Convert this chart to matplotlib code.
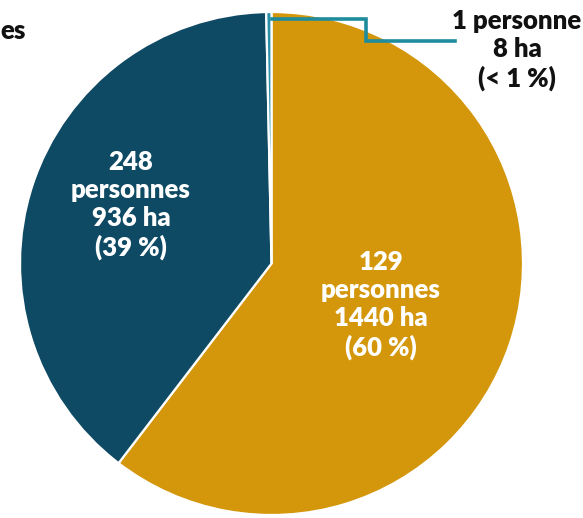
import matplotlib.pyplot as plt

# Surfaces par catégorie de propriétaires
personnes = [129, 248, 1]
surfaces_ha = [1440, 936, 8]
pourcentages = ["60 %", "39 %", "< 1 %"]
couleurs = ["#D4960A", "#0F4A64", "#2A90A8"]

W, H = 583, 518
fig = plt.figure(figsize=(W / 100, H / 100), dpi=100)
ax = fig.add_axes([0, 0, 1, 1])

cx, cy, r = 271.5, H - 263.5, 251.5
ax.pie(surfaces_ha, colors=couleurs, startangle=90, counterclock=False,
       center=(cx, cy), radius=r, frame=True,
       wedgeprops=dict(edgecolor="white", linewidth=1.6))

ax.set_xlim(0, W)
ax.set_ylim(0, H)
ax.set_aspect("equal")
ax.axis("off")

font = dict(family="Lato", fontweight="heavy", fontsize=18.5, ha="center", va="center",
            linespacing=1.2)

# étiquettes dans les secteurs
ax.text(381, H - 305, f"{personnes[0]}\npersonnes\n{surfaces_ha[0]} ha\n({pourcentages[0]})",
        color="white", **font)
ax.text(131, H - 205, f"{personnes[1]}\npersonnes\n{surfaces_ha[1]} ha\n({pourcentages[1]})",
        color="white", **font)

# petit secteur : étiquette extérieure avec trait de rappel
ax.plot([272, 366, 366, 455], [H - 19, H - 19, H - 41, H - 41],
        color="#1E8C9C", lw=2.6, solid_joinstyle="miter")
ax.text(517, H - 50, f"{personnes[2]} personne\n{surfaces_ha[2]} ha\n({pourcentages[2]})",
        color="#111111", **font)

# fin du libellé voisin, à gauche
ax.text(0, H - 31, "es", color="#111111", family="Lato", fontweight="heavy",
        fontsize=18.5, ha="left", va="center")

fig.savefig("out.png", dpi=100)
